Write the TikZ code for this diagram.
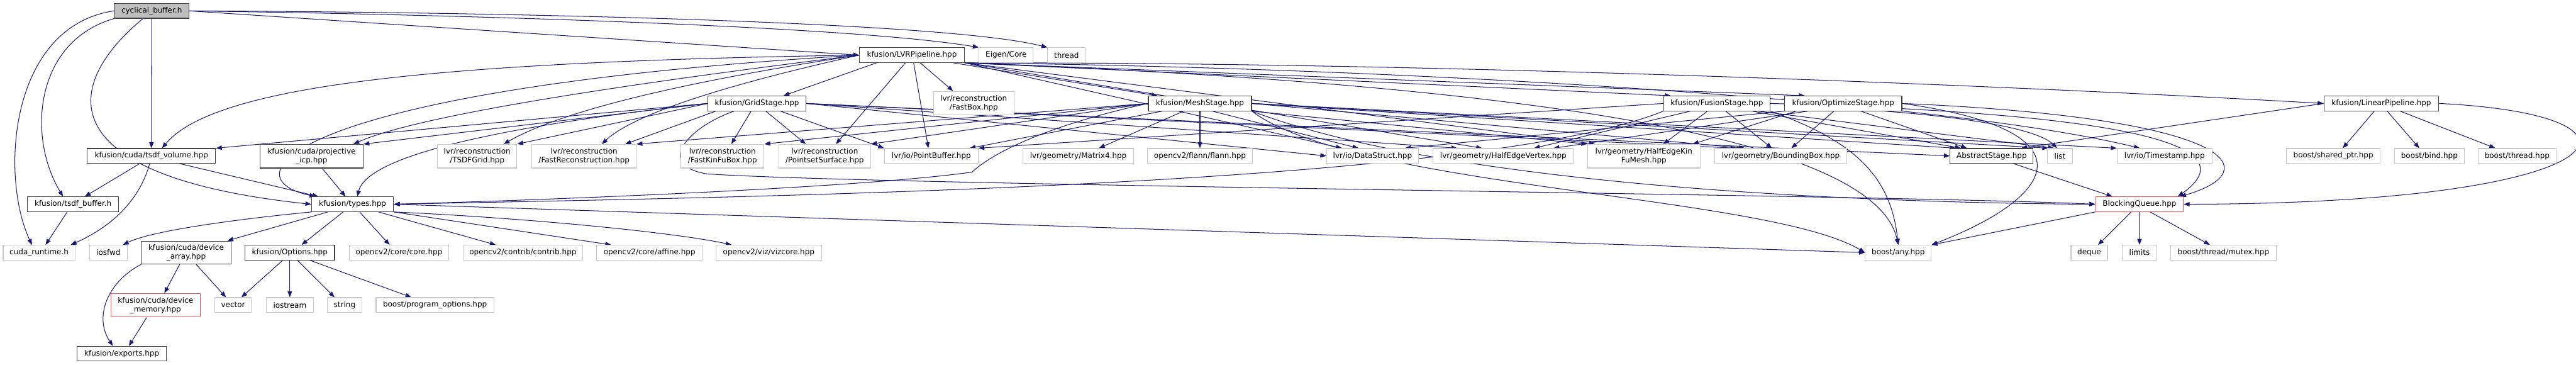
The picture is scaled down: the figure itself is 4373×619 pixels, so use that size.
\documentclass[tikz,border=0pt]{standalone}
\usepackage{fontspec}
\setmainfont{DejaVu Sans}
\usetikzlibrary{arrows.meta}
\definecolor{edgeblue}{HTML}{191970}
\definecolor{docgray}{HTML}{404040}
\definecolor{extgray}{HTML}{C8C8C8}
\definecolor{rootgray}{HTML}{BFBFBF}
\definecolor{truncred}{HTML}{F05050}
\pgfdeclarelayer{bg}
\pgfsetlayers{bg,main}

\begin{document}
\begin{tikzpicture}[x=1pt, y=-1pt,
    every node/.style={font=\fontsize{12.8}{14.5}\selectfont, inner sep=0pt, align=center,
      minimum height=25pt, fill=white, line width=1.2pt},
    docbox/.style={draw=docgray},
    extbox/.style={draw=extgray},
    redbox/.style={draw=truncred},
    twoline/.style={minimum height=40pt},
    dep/.style={draw=edgeblue, line width=1.1pt, -{Triangle[length=10pt,width=7.5pt]}}]

    \useasboundingbox (0,0) rectangle (4373,619);

    % Draw the file itself
    \node[docbox, fill=rootgray, minimum width=127] (cb) at (257.5,18.5) {cyclical\_buffer.h};

    % Draw the second row
    \node[docbox, minimum width=178] (lvr) at (1548,93.5) {kfusion/LVRPipeline.hpp};
    \node[extbox, minimum width=92] (eigen) at (1708,93.5) {Eigen/Core};
    \node[extbox, minimum width=64] (thread) at (1810.5,93.5) {thread};

    % Draw the stages
    \node[docbox, minimum width=166] (grid) at (1285,175.5) {kfusion/GridStage.hpp};
    \node[extbox, twoline, minimum width=137] (fastbox) at (1653,175) {lvr/reconstruction\\/FastBox.hpp};
    \node[docbox, minimum width=175] (mesh) at (2037,175.5) {kfusion/MeshStage.hpp};
    \node[docbox, minimum width=181] (fusion) at (2914.5,175.5) {kfusion/FusionStage.hpp};
    \node[docbox, minimum width=199] (optimize) at (3129,175.5) {kfusion/OptimizeStage.hpp};
    \node[docbox, minimum width=195] (linear) at (4042.5,175.5) {kfusion/LinearPipeline.hpp};

    % Draw the fourth row
    \node[docbox, minimum width=218] (tsdfvol) at (257,264.5) {kfusion/cuda/tsdf\_volume.hpp};
    \node[docbox, twoline, minimum width=175] (icp) at (529,265) {kfusion/cuda/projective\\\_icp.hpp};
    \node[extbox, twoline, minimum width=135] (tsdfgrid) at (810,265) {lvr/reconstruction\\/TSDFGrid.hpp};
    \node[extbox, twoline, minimum width=177] (fastrec) at (991.5,265) {lvr/reconstruction\\/FastReconstruction.hpp};
    \node[extbox, twoline, minimum width=141] (fastkinfu) at (1226.5,265) {lvr/reconstruction\\/FastKinFuBox.hpp};
    \node[extbox, twoline, minimum width=156] (pointset) at (1400,265) {lvr/reconstruction\\/PointsetSurface.hpp};
    \node[extbox, minimum width=159] (pointbuf) at (1581,264.5) {lvr/io/PointBuffer.hpp};
    \node[extbox, minimum width=188] (matrix4) at (1830.5,264.5) {lvr/geometry/Matrix4.hpp};
    \node[extbox, minimum width=178] (flann) at (2037,264.5) {opencv2/flann/flann.hpp};
    \node[extbox, minimum width=156] (datastruct) at (2330,264.5) {lvr/io/DataStruct.hpp};
    \node[extbox, minimum width=238] (hevertex) at (2552,264.5) {lvr/geometry/HalfEdgeVertex.hpp};
    \node[extbox, twoline, minimum width=191] (hekinfu) at (2790.5,265) {lvr/geometry/HalfEdgeKin\\FuMesh.hpp};
    \node[extbox, minimum width=224] (bbox) at (3023,264.5) {lvr/geometry/BoundingBox.hpp};
    \node[docbox, minimum width=141] (abstract) at (3381,264.5) {AbstractStage.hpp};
    \node[extbox, minimum width=43] (list) at (3497,264.5) {list};
    \node[extbox, minimum width=161] (timestamp) at (3674.5,264.5) {lvr/io/Timestamp.hpp};
    \node[extbox, minimum width=159] (sharedptr) at (3961,264.5) {boost/shared\_ptr.hpp};
    \node[extbox, minimum width=119] (bind) at (4124,264.5) {boost/bind.hpp};
    \node[extbox, minimum width=132] (bthread) at (4273,264.5) {boost/thread.hpp};

    % Draw the fifth row
    \node[docbox, minimum width=155] (tsdfbuf) at (124,346.5) {kfusion/tsdf\_buffer.h};
    \node[docbox, minimum width=139] (types) at (598.5,346.5) {kfusion/types.hpp};
    \node[redbox, minimum width=149] (blockq) at (3632,346.5) {BlockingQueue.hpp};

    % Draw the sixth row
    \node[extbox, minimum width=122] (cudart) at (66.3,428.5) {cuda\_runtime.h};
    \node[extbox, minimum width=64] (iosfwd) at (184,428.5) {iosfwd};
    \node[docbox, twoline, minimum width=152, minimum height=39] (devarray) at (316,428.5) {kfusion/cuda/device\\\_array.hpp};
    \node[docbox, minimum width=152] (options) at (492,428.5) {kfusion/Options.hpp};
    \node[extbox, minimum width=169] (corehpp) at (677.4,428.5) {opencv2/core/core.hpp};
    \node[extbox, minimum width=203] (contrib) at (887.6,428.5) {opencv2/contrib/contrib.hpp};
    \node[extbox, minimum width=179] (affine) at (1102.5,428.5) {opencv2/core/affine.hpp};
    \node[extbox, minimum width=179] (vizcore) at (1305,428.5) {opencv2/viz/vizcore.hpp};
    \node[extbox, minimum width=112] (any) at (3222.4,428.5) {boost/any.hpp};
    \node[extbox, minimum width=62] (deque) at (3546.6,428.5) {deque};
    \node[extbox, minimum width=59] (limits) at (3632,428.5) {limits};
    \node[extbox, minimum width=179] (mutex) at (3774.5,428.5) {boost/thread/mutex.hpp};

    % Draw the lowest rows
    \node[redbox, twoline, minimum width=152] (devmem) at (264,518) {kfusion/cuda/device\\\_memory.hpp};
    \node[extbox, minimum width=62] (vector) at (395.7,517.5) {vector};
    \node[extbox, minimum width=80] (iostream) at (492,517.5) {iostream};
    \node[extbox, minimum width=59] (string) at (585,517.5) {string};
    \node[extbox, minimum width=200] (progopt) at (738.4,517.5) {boost/program\_options.hpp};
    \node[docbox, minimum width=151] (exports) at (206.7,600) {kfusion/exports.hpp};

    \begin{pgfonlayer}{bg}
    % Draw the includes of the file itself
    \draw[dep] (cb.east) -- (lvr.west);
    \draw[dep] (cb.east) .. controls (800,25) and (1450,45) .. (eigen.north west);
    \draw[dep] (cb.east) .. controls (800,20) and (1600,35) .. (thread.north west);
    \draw[dep] (cb) -- (tsdfvol);
    \draw[dep] (cb.south west) .. controls (60,70) and (45,230) .. ([xshift=-17]tsdfbuf.north);
    \draw[dep] (cb.west) .. controls (15,45) and (0,300) .. ([xshift=-12]cudart.north);
    \draw[dep] ([xshift=-15]cb.south) .. controls (100,150) and (90,300) .. (types.west);

    % Draw the includes of LVRPipeline
    \draw[dep] (lvr.west) .. controls (700,105) and (360,150) .. ([xshift=18]tsdfvol.north);
    \draw[dep] (lvr.west) .. controls (500,150) and (380,300) .. ([xshift=-63]types.north);
    \draw[dep] (lvr.west) .. controls (1000,150) and (700,200) .. ([xshift=71]icp.north);
    \draw[dep] (lvr.west) .. controls (1150,140) and (950,190) .. ([xshift=45]tsdfgrid.north);
    \draw[dep] (lvr.west) .. controls (1250,140) and (1080,190) .. ([xshift=30]fastrec.north);
    \draw[dep] ([xshift=-60]lvr.south) -- ([xshift=45]grid.north);
    \draw[dep] ([xshift=-11]lvr.south) -- ([xshift=19]pointset.north);
    \draw[dep] ([xshift=3]lvr.south) -- ([xshift=-5]pointbuf.north);
    \draw[dep] ([xshift=14]lvr.south) -- ([xshift=-35]fastbox.north);
    \draw[dep] ([xshift=70]lvr.south) -- ([xshift=-72]mesh.north);
    \draw[dep] (lvr.south east) -- ([xshift=13]fusion.north west);
    \draw[dep] (lvr.south east) -- ([xshift=-65]optimize.north);
    \draw[dep] (lvr.south east) .. controls (2500,105) and (3500,150) .. (linear.west);
    \draw[dep] (lvr.south east) -- ([xshift=-52]datastruct.north);
    \draw[dep] (lvr.south east) -- ([xshift=-36]hevertex.north);
    \draw[dep] (lvr.south east) -- ([xshift=-83]hekinfu.north);
    \draw[dep] (lvr.south east) .. controls (2400,115) and (3300,170) .. ([xshift=-42]timestamp.north);
    \draw[dep] (lvr.south east) .. controls (2500,140) and (3180,220) .. (any.north);

    % Draw the includes of GridStage
    \draw[dep] (grid.west) -- (tsdfvol.north east);
    \draw[dep] (grid.west) -- (icp.north east);
    \draw[dep] (grid.west) .. controls (750,225) and (620,280) .. ([xshift=8]types.north);
    \draw[dep] (grid.west) -- (tsdfgrid.north east);
    \draw[dep] ([xshift=-70]grid.south) -- ([xshift=70]fastrec.north);
    \draw[dep] ([xshift=-10]grid.south) -- ([xshift=15]fastkinfu.north);
    \draw[dep] ([xshift=15]grid.south) -- ([xshift=-32]pointset.north);
    \draw[dep] ([xshift=40]grid.south) -- (pointbuf.north west);
    \draw[dep] (grid.east) -- (datastruct.west);
    \draw[dep] (grid.east) -- ([xshift=-78]hevertex.north);
    \draw[dep] (grid.east) -- ([xshift=-75]bbox.north);
    \draw[dep] (grid.east) -- (abstract.west);
    \draw[dep] ([xshift=-39]grid.south) .. controls (1170,215) and (1110,280) .. (1200,295)
        .. controls (1500,315) and (3200,330) .. (blockq.west);

    % Draw the includes of MeshStage
    \draw[dep] (mesh.west) .. controls (1790,210) and (1690,255) .. (1650,292)
        .. controls (1450,320) and (900,340) .. (types.east);
    \draw[dep] (mesh.west) -- (fastrec.north east);
    \draw[dep] (mesh.west) -- (fastkinfu.north east);
    \draw[dep] (mesh.west) -- (pointset.north east);
    \draw[dep] ([xshift=-64]mesh.south) -- ([xshift=65]pointbuf.north);
    \draw[dep] ([xshift=-28]mesh.south) -- ([xshift=35]matrix4.north);
    \draw[dep] (mesh.south) -- (flann.north);
    \draw[dep] ([xshift=21]mesh.south) -- ([xshift=-24]datastruct.north);
    \draw[dep] (mesh.south east) -- (hekinfu.north west);
    \draw[dep] (mesh.east) -- ([xshift=-61]bbox.north);
    \draw[dep] (mesh.east) -- ([xshift=-61]abstract.north);
    \draw[dep] (mesh.east) -- ([xshift=-20]list.north);
    \draw[dep] (mesh.east) -- (timestamp.north west);
    \draw[dep] (mesh.south east) .. controls (2500,330) and (3300,345) .. (blockq.west);
    \draw[dep] (mesh.south east) .. controls (2300,320) and (3000,330) .. (any.west);

    % Draw the includes of FusionStage
    \draw[dep] (fusion.south west) .. controls (2500,320) and (1200,335) .. (types.east);
    \draw[dep] (fusion.west) -- (pointbuf.north east);
    \draw[dep] ([xshift=-45]fusion.south) -- ([xshift=52]hevertex.north);
    \draw[dep] ([xshift=-16]fusion.south) -- ([xshift=33]hekinfu.north);
    \draw[dep] ([xshift=15]fusion.south) -- ([xshift=-15]bbox.north);
    \draw[dep] ([xshift=60]fusion.south) -- ([xshift=-52]abstract.north);
    \draw[dep] ([xshift=70]fusion.south) -- ([xshift=-10]list.north);
    \draw[dep] (fusion.east) .. controls (3700,195) and (3800,260) .. ([xshift=65]blockq.north);
    \draw[dep] (fusion.south east) .. controls (3150,240) and (3210,300) .. (any.north);

    % Draw the includes of OptimizeStage
    \draw[dep] (optimize.south west) -- ([xshift=55]datastruct.north);
    \draw[dep] ([xshift=-60]optimize.south) -- ([xshift=85]hevertex.north);
    \draw[dep] ([xshift=-80]optimize.south) -- ([xshift=83]hekinfu.north);
    \draw[dep] ([xshift=-16]optimize.south) -- ([xshift=18]bbox.north);
    \draw[dep] ([xshift=30]optimize.south) -- ([xshift=-42]abstract.north);
    \draw[dep] ([xshift=70]optimize.south) .. controls (3350,200) and (3460,220) .. ([xshift=-5]list.north);
    \draw[dep] (optimize.east) .. controls (3800,200) and (3850,290) .. ([xshift=69]blockq.north);
    \draw[dep] (optimize.east) .. controls (3550,220) and (3500,330) .. (any.north east);

    % Draw the includes of LinearPipeline
    \draw[dep] (linear.west) -- ([xshift=50]abstract.north);
    \draw[dep] ([xshift=-12]linear.south) -- ([xshift=16]sharedptr.north);
    \draw[dep] ([xshift=10]linear.south) -- ([xshift=-17]bind.north);
    \draw[dep] ([xshift=32]linear.south) -- ([xshift=-37]bthread.north);
    \draw[dep] (linear.east) .. controls (4540,195) and (4460,345) .. (blockq.east);

    % Draw the includes of the lower files
    \draw[dep] ([xshift=37]abstract.south) -- ([xshift=-46]blockq.north);
    \draw[dep] (blockq.south west) -- (any.north east);
    \draw[dep] ([xshift=-14]blockq.south) -- ([xshift=15]deque.north);
    \draw[dep] (blockq.south) -- (limits.north);
    \draw[dep] ([xshift=18]blockq.south) -- ([xshift=-23]mutex.north);
    \draw[dep] ([xshift=-20]tsdfvol.south) -- ([xshift=20]tsdfbuf.north);
    \draw[dep] ([xshift=-3]tsdfvol.south) .. controls (240,330) and (200,380) .. ([xshift=-8]cudart.north east);
    \draw[dep] ([xshift=48]tsdfvol.south) -- ([xshift=-58]types.north);
    \draw[dep] ([xshift=-10]tsdfbuf.south) -- ([xshift=11]cudart.north);
    \draw[dep] ([xshift=18]icp.south) -- ([xshift=-12]types.north);

    % Draw the includes of types
    \draw[dep] (types.south west) .. controls (420,370) and (260,390) .. ([xshift=-8]iosfwd.north east);
    \draw[dep] ([xshift=-42]types.south) -- ([xshift=70]devarray.north);
    \draw[dep] ([xshift=-16]types.south) -- ([xshift=20]options.north);
    \draw[dep] ([xshift=12]types.south) -- ([xshift=-16]corehpp.north);
    \draw[dep] ([xshift=44]types.south) -- ([xshift=-46]contrib.north);
    \draw[dep] (types.south east) -- ([xshift=-65]affine.north);
    \draw[dep] (types.south east) .. controls (900,370) and (1150,395) .. ([xshift=-63]vizcore.north);
    \draw[dep] (types.east) -- (any.west);

    % Draw the includes of the cuda and option files
    \draw[dep] ([xshift=-11]devarray.south) -- ([xshift=15]devmem.north);
    \draw[dep] ([xshift=17]devarray.south) -- ([xshift=-12]vector.north);
    \draw[dep] (devarray.south west) .. controls (180,480) and (160,540) .. ([xshift=-15]exports.north);
    \draw[dep] ([xshift=-15]devmem.south) -- ([xshift=12]exports.north);
    \draw[dep] ([xshift=-12]options.south) -- ([xshift=14]vector.north);
    \draw[dep] (options.south) -- (iostream.north);
    \draw[dep] ([xshift=13]options.south) -- ([xshift=-17]string.north);
    \draw[dep] ([xshift=34]options.south) -- ([xshift=-40]progopt.north);
    \end{pgfonlayer}

\end{tikzpicture}
\end{document}
